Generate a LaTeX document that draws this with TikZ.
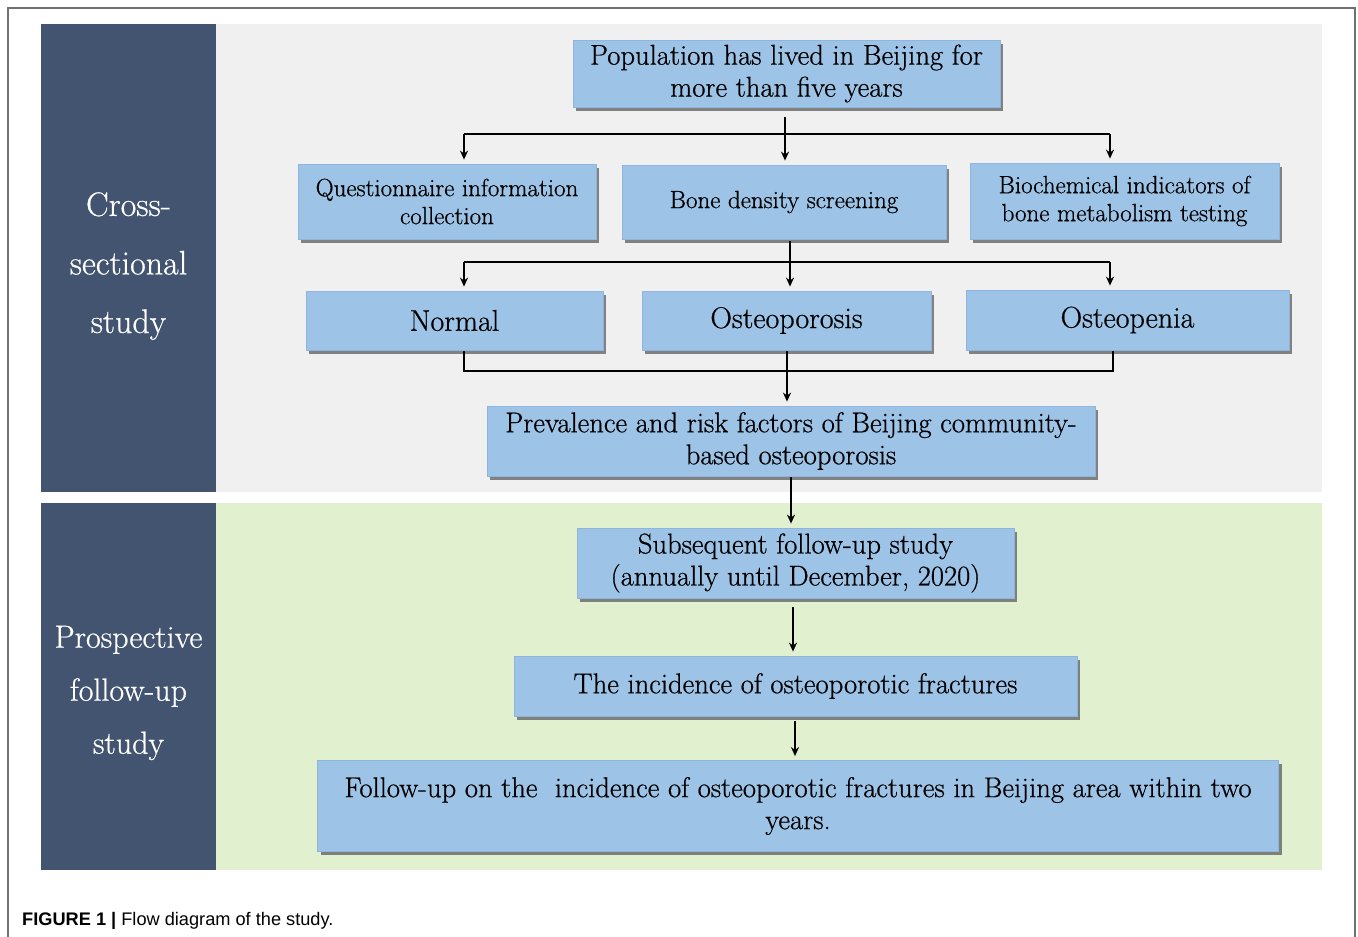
\documentclass[tikz,border=0pt]{standalone}
\usepackage{fontspec}
\newfontfamily\capfont{Liberation Sans}
\newfontfamily\boxfont{Latin Modern Roman}[FakeBold=0.6]
\usetikzlibrary{shadows,arrows.meta}
\definecolor{panel}{HTML}{435470}
\definecolor{graybg}{HTML}{F0F0F0}
\definecolor{greenbg}{HTML}{E1F0CF}
\definecolor{boxblue}{HTML}{9DC3E6}
\definecolor{boxedge}{HTML}{8DB5DD}
\definecolor{framegray}{HTML}{707070}
\begin{document}
\begin{tikzpicture}[x=1pt,y=-1pt,
  fbox/.style={fill=boxblue, draw=boxedge, line width=0.8pt, inner sep=0pt, align=center,
    drop shadow={shadow xshift=3pt, shadow yshift=-3.5pt, fill=black!60, opacity=0.8}},
  big/.style={font=\boxfont\fontsize{28.6}{32}\selectfont},
  small/.style={font=\boxfont\fontsize{25}{28}\selectfont},
  huge/.style={font=\boxfont\fontsize{30}{32}\selectfont},
  side/.style={text=white, align=center},
  ln/.style={line width=1.6pt, black},
  arr/.style={ln, -{Stealth[length=9pt,width=8pt]}, shorten >=4pt}]
\useasboundingbox (0,0) rectangle (1358,937);
\fill[white] (0,0) rectangle (1358,937);
% frame
\draw[framegray, line width=1.4pt] (8,937) -- (8,8) -- (1355,8) -- (1355,937);
% backgrounds
\fill[graybg] (216,24) rectangle (1322,492);
\fill[greenbg] (216,503) rectangle (1322,870);
\fill[panel] (41,24) rectangle (216,492);
\fill[panel] (41,503) rectangle (216,870);
\node[side, font=\boxfont\fontsize{34}{58.5}\selectfont] (lbl1) at (128.5,266) {Cross-\\sectional\\study};
\node[side, font=\boxfont\fontsize{32}{53}\selectfont] (lbl2) at (128.5,693) {Prospective\\follow-up\\study};
% boxes
\node[fbox, big, minimum width=427pt, minimum height=67pt] (top) at (786.5,73.5) {Population has lived in Beijing for\\more than five years};
\node[fbox, small, minimum width=298pt, minimum height=75pt] (q) at (447,201.5) {Questionnaire information\\collection};
\node[fbox, small, minimum width=324pt, minimum height=74pt] (bd) at (784,202) {Bone density screening};
\node[fbox, small, minimum width=309pt, minimum height=76pt] (bio) at (1124.5,201) {Biochemical indicators of\\bone metabolism testing};
\node[fbox, huge, minimum width=297pt, minimum height=59pt] (nor) at (454.5,320.5) {Normal};
\node[fbox, huge, minimum width=289pt, minimum height=59pt] (osp) at (786.5,320.5) {Osteoporosis};
\node[fbox, huge, minimum width=323pt, minimum height=60pt] (ospe) at (1127.5,320) {Osteopenia};
\node[fbox, big, minimum width=608pt, minimum height=70pt] (prev) at (791,441) {Prevalence and risk factors of Beijing community-\\based osteoporosis};
\node[fbox, big, minimum width=437pt, minimum height=70pt] (sub) at (795.5,563) {Subsequent follow-up study\\(annually until December, 2020)};
\node[fbox, big, minimum width=563pt, minimum height=60pt] (inc) at (795.5,686) {The incidence of osteoporotic fractures};
\node[fbox, big, minimum width=961pt, minimum height=91pt] (fu) at (798,806) {Follow-up on the\ \ incidence of osteoporotic fractures in Beijing area within two\\years.};
% connectors stage 1
\coordinate (a1) at (785,117);
\coordinate (h1c) at (785,134);
\coordinate (h1l) at (464,134);
\coordinate (h1r) at (1110,134);
\draw[ln] (a1) -- (h1c);
\draw[ln] (h1l) -- (h1r);
\draw[arr] (h1l) -- (h1l |- q.north);
\draw[arr] (h1c) -- (h1c |- bd.north);
\draw[arr] (h1r) -- (h1r |- bio.north);
% stage 2
\coordinate (b1) at (790,241);
\coordinate (h2c) at (790,262);
\coordinate (h2l) at (464,262);
\coordinate (h2r) at (1110,262);
\draw[ln] (b1) -- (h2c);
\draw[ln] (h2l) -- (h2r);
\draw[arr] (h2l) -- (h2l |- nor.north);
\draw[arr] (h2c) -- (h2c |- osp.north);
\draw[arr] (h2r) -- (h2r |- ospe.north);
% stage 3
\coordinate (c1) at (464,351);
\coordinate (c2) at (1113,351);
\coordinate (c3) at (787,351);
\draw[ln] (c1) -- (464,371) -- (1113,371) -- (c2);
\draw[arr] (c3) -- (c3 |- prev.north);
% stage 4-6
\coordinate (d1) at (791,477);
\draw[arr] (d1) -- (d1 |- sub.north);
\coordinate (e1) at (793,607);
\draw[arr] (e1) -- (e1 |- inc.north);
\coordinate (f1) at (795,721);
\draw[arr] (f1) -- (f1 |- fu.north);
% caption
\node[anchor=base west, inner sep=0pt, font=\capfont\fontsize{18.2}{22}\selectfont] (cap) at (22,925) {\textbf{FIGURE 1 |} Flow diagram of the study.};
\end{tikzpicture}
\end{document}
